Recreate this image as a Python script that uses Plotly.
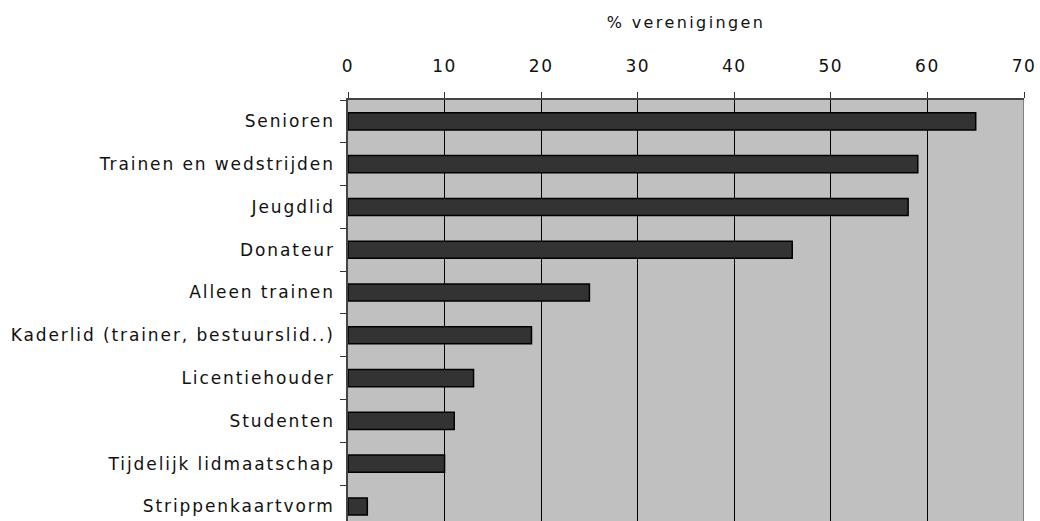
import plotly.graph_objects as go

categories = ["Senioren", "Trainen en wedstrijden", "Jeugdlid", "Donateur", "Alleen trainen",
              "Kaderlid (trainer, bestuurslid..)", "Licentiehouder", "Studenten",
              "Tijdelijk lidmaatschap", "Strippenkaartvorm"]
values = [65, 59, 58, 46, 25, 19, 13, 11, 10, 2]
x_ticks = [0, 10, 20, 30, 40, 50, 60, 70]
x_title = "% verenigingen"

font = "DejaVu Sans"

fig = go.Figure(go.Bar(
    y=categories, x=values, orientation="h",
    marker=dict(color="#333333", line=dict(color="#000000", width=1.5)),
    width=0.4,
))

fig.update_layout(
    width=1040, height=521,
    margin=dict(l=348, r=16, t=100, b=0),
    paper_bgcolor="white", plot_bgcolor="#C0C0C0",
    showlegend=False,
    font=dict(family=font, size=17, color="#111111"),
    xaxis=dict(
        side="top", range=[0, 70], tickvals=x_ticks, ticktext=[str(v) for v in x_ticks],
        showgrid=True, gridcolor="#000000", gridwidth=1, zeroline=False,
        ticks="outside", ticklen=6, tickcolor="#333333",
        showline=True, linecolor="#444444", linewidth=1.5,
        tickfont=dict(family=font, size=17), ticklabelstandoff=13,
        title=dict(text=x_title, font=dict(family=font, size=16), standoff=24),
        automargin=False,
    ),
    yaxis=dict(
        type="category", categoryorder="array", categoryarray=categories,
        range=[9.34, -0.5], tickson="boundaries",
        ticks="outside", ticklen=6, tickcolor="#333333",
        showline=True, linecolor="#444444", linewidth=1.5,
        showgrid=False, ticklabelstandoff=8,
        tickfont=dict(family=font, size=17),
        automargin=False,
    ),
    shapes=[dict(type="line", xref="x", yref="paper", x0=70, x1=70, y0=0, y1=1,
                 line=dict(color="#808080", width=2))],
)

post = """
document.body.style.margin = '0';
var s = document.createElement('style');
s.textContent = 'body{margin:0;} .ytick text{letter-spacing:1.9px;} .xtick text{letter-spacing:1.5px;} .g-xtitle text{letter-spacing:2.4px;}';
document.head.appendChild(s);
"""

fig.write_html("out.html", post_script=post, config={"displayModeBar": False})
